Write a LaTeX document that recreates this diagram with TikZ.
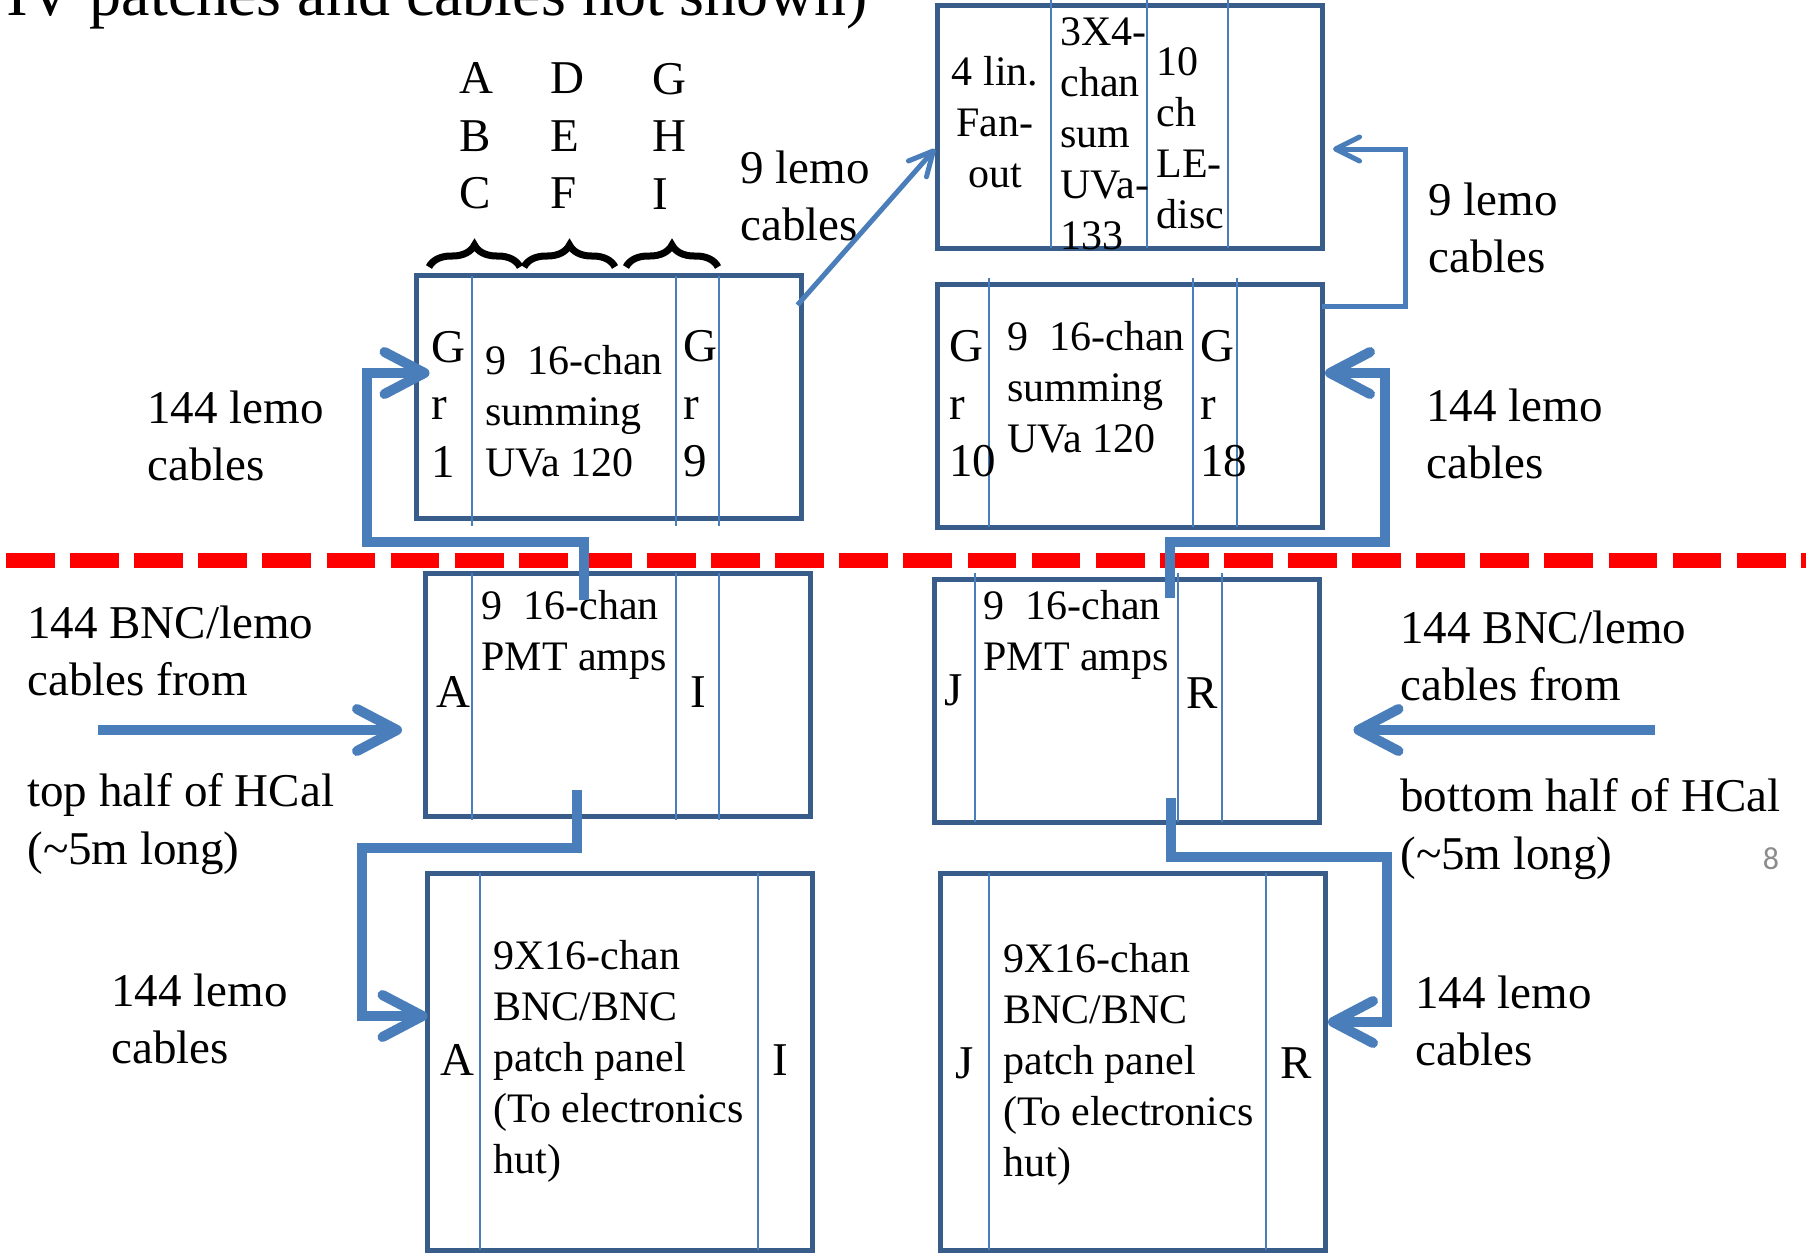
\documentclass[tikz,border=0pt]{standalone}
\usepackage{fontspec}
\setmainfont{Liberation Serif}
\newfontfamily\pagefont{Carlito}
\usetikzlibrary{arrows.meta, decorations.pathreplacing}

\definecolor{boxblue}{RGB}{56,93,138}
\definecolor{cableblue}{RGB}{74,126,187}
\definecolor{cutred}{RGB}{255,0,0}
\definecolor{pagegray}{RGB}{140,140,140}

\begin{document}
\begin{tikzpicture}[
    x=0.5pt, y=-0.5pt,
    every node/.style={inner sep=0pt, align=left},
    panel/.style={
        draw=boxblue,
        line width=2.5pt,
        outer sep=0pt,
        minimum width=192.5pt,
        minimum height=121.5pt
    },
    divider/.style={
        draw=cableblue,
        line width=1pt
    },
    biglabel/.style={font=\fontsize{23.5}{28.75}\selectfont, anchor=west},
    boxtext/.style={font=\fontsize{21}{25.5}\selectfont, anchor=west},
    cable/.style={
        -{Straight Barb[round, length=20pt, width=21pt]},
        draw=cableblue,
        line width=5pt
    },
    lemo/.style={
        -{Straight Barb[round, length=12pt, width=12pt]},
        draw=cableblue,
        line width=2.5pt
    },
    group/.style={
        decorate,
        decoration={brace, amplitude=11pt},
        line width=3.5pt
    }
]

\useasboundingbox (0,0) rectangle (1806,1253);
\clip (0,0) rectangle (1806,1253);

\node[font=\fontsize{32}{38}\selectfont, anchor=base west] (title) at (-19,15)
{HV patches and cables not shown)};

% crates above the cut
\node[panel] (fanout) at (1129.5,126.5) {};
\node[panel] (sumA) at (609,397) {};
\node[panel] (sumJ) at (1129.5,406) {};

% crates below the cut
\node[panel] (pmtA) at (617.5,694.5) {};
\node[panel] (pmtJ) at (1127,700.5) {};
\node[panel, minimum height=188.5pt] (patchA) at (620,1061.5) {};
\node[panel, minimum height=188.5pt] (patchJ) at (1132.5,1061.5) {};

\foreach \x in {1051,1147,1228} \draw[divider] (\x,0) -- (\x,248);
\foreach \x in {472,676,719} \draw[divider] (\x,276) -- (\x,526);
\foreach \x in {989,1193,1237} \draw[divider] (\x,278) -- (\x,527);
\foreach \x in {472,676,719} \draw[divider] (\x,573) -- (\x,820);
\foreach \x in {975,1178,1222} \draw[divider] (\x,573) -- (\x,822);
\foreach \x in {480,758} \draw[divider] (\x,873) -- (\x,1250);
\foreach \x in {989,1266} \draw[divider] (\x,873) -- (\x,1250);

% crate texts
\node[boxtext, anchor=center, align=center] (fanoutA) at (995,122) {4 lin.\\Fan-\\out};
\node[boxtext] (fanoutB) at (1060,134) {3X4-\\chan\\sum\\UVa-\\133};
\node[boxtext] (fanoutC) at (1156,138) {10\\ch\\LE-\\disc};

\node[biglabel] (sumAleft) at (431,404) {G\\r\\1};
\node[boxtext] (sumAmid) at (485,411) {9~~16-chan\\summing\\UVa 120};
\node[biglabel] (sumAright) at (683,404) {G\\r\\9};

\node[biglabel] (sumJleft) at (949,404) {G\\r\\10};
\node[boxtext] (sumJmid) at (1007,387) {9~~16-chan\\summing\\UVa 120};
\node[biglabel] (sumJright) at (1200,404) {G\\r\\18};

\node[biglabel] (pmtAleft) at (436,692) {A};
\node[boxtext] (pmtAmid) at (481,635) {9~~16-chan\\PMT amps};
\node[biglabel] (pmtAright) at (690,692) {I};

\node[biglabel] (pmtJleft) at (944,690) {J};
\node[boxtext] (pmtJmid) at (983,635) {9~~16-chan\\PMT amps};
\node[biglabel] (pmtJright) at (1186,693) {R};

\node[biglabel] (patchAleft) at (440,1060) {A};
\node[boxtext] (patchAmid) at (493,1061) {9X16-chan\\BNC/BNC\\patch panel\\(To electronics\\hut)};
\node[biglabel] (patchAright) at (772,1060) {I};

\node[biglabel] (patchJleft) at (955,1063) {J};
\node[boxtext] (patchJmid) at (1003,1064) {9X16-chan\\BNC/BNC\\patch panel\\(To electronics\\hut)};
\node[biglabel] (patchJright) at (1280,1063) {R};

% group letters
\node[biglabel] (grpABC) at (459,136) {A\\B\\C};
\node[biglabel] (grpDEF) at (550,136) {D\\E\\F};
\node[biglabel] (grpGHI) at (652,136) {G\\H\\I};
\draw[group] (429,267) -- (520,267);
\draw[group] (524,267) -- (615,267);
\draw[group] (626,267) -- (718,267);

% cable labels
\node[biglabel] (lemoTop) at (740,196) {9 lemo\\cables};
\node[biglabel] (lemoRet) at (1428,228) {9 lemo\\cables};
\node[biglabel] (upA) at (147,436) {144 lemo\\cables};
\node[biglabel] (upJ) at (1426,434) {144 lemo\\cables};
\node[biglabel] (inA) at (27,651) {144 BNC/lemo\\cables from};
\node[biglabel] (srcA) at (27,824) {top half of HCal\\(\textasciitilde5m long)};
\node[biglabel] (inJ) at (1400,656) {144 BNC/lemo\\cables from};
\node[biglabel] (srcJ) at (1400,829) {bottom half of HCal\\(\textasciitilde5m long)};
\node[biglabel] (downA) at (111,1019) {144 lemo\\cables};
\node[biglabel] (downJ) at (1415,1021) {144 lemo\\cables};

\node[font=\pagefont\fontsize{16}{19}\selectfont, text=pagegray] (pagenum) at (1771,859) {8};

% cut line
\draw[cutred, line width=7.5pt, dash pattern=on 24.4pt off 7.65pt] (6,560) -- (1806,560);

\coordinate (fromTop) at (98,730);
\coordinate (fromBottom) at (1655,730);

\draw[cable] (fromTop) -- ([xshift=-11.5pt, yshift=-17.75pt]pmtA.west);
\draw[cable] (fromBottom) -- ([xshift=17pt, yshift=-14.75pt]pmtJ.east);

\draw[cable] ([xshift=-16.75pt, yshift=-13.5pt]pmtA.north) |- (367,542)
    |- ([xshift=6.5pt, yshift=12pt]sumA.west);
\draw[cable] ([xshift=21.5pt, yshift=-9.5pt]pmtJ.north) |- (1385,542)
    |- ([xshift=1.5pt, yshift=16.5pt]sumJ.east);
\draw[cable] ([xshift=-20.25pt, yshift=13pt]pmtA.south) |- (362,848)
    |- ([yshift=22.75pt]patchA.west);
\draw[cable] ([xshift=22pt, yshift=12pt]pmtJ.south) |- (1387,857)
    |- ([xshift=1.5pt, yshift=19.75pt]patchJ.east);

\draw[lemo] ([xshift=-2pt, yshift=46pt]sumA.east) -- ([xshift=-1pt, yshift=-11.25pt]fanout.west);
\draw[lemo] ([yshift=50pt]sumJ.east) -| (1405,250)
    |- ([xshift=5.5pt, yshift=-11.25pt]fanout.east);

\end{tikzpicture}
\end{document}
